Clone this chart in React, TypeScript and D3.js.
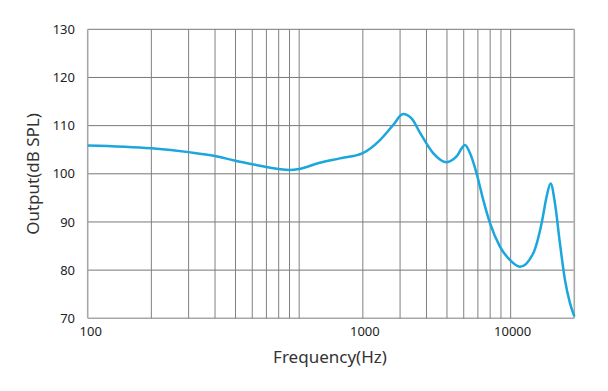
import React, { useEffect, useRef } from 'react'
import * as d3 from 'd3'

// frequency response
const freqs = [100, 200, 300, 400, 500, 600, 700, 800, 900, 1000, 1250, 1560, 2000, 2410, 2780, 3100, 3400, 3730, 4300, 4980, 5550, 6080, 6420, 6900, 7420, 7980, 8900, 9930, 11070, 12790, 14020, 14800, 15450, 16200, 17100, 18060, 19070, 20000]
const output = [105.9, 105.3, 104.5, 103.7, 102.7, 102.0, 101.4, 101.0, 100.8, 101.0, 102.3, 103.2, 104.3, 107.0, 110.1, 112.4, 111.5, 108.5, 104.3, 102.4, 103.6, 106.0, 104.3, 100.1, 94.6, 89.8, 84.9, 82.1, 80.7, 83.5, 89.8, 95.3, 98.0, 93.9, 85.6, 78.0, 73.2, 70.4]

const gridFreqs = [200, 300, 400, 500, 600, 700, 800, 900, 1000, 2000, 3000, 4000, 5000, 6000, 7000, 8000, 9000, 10000]
// the original puts its x labels at these grid lines
const xTickAt = [100, 2000, 10000]
const xTickLabels = ['100', '1000', '10000']
const yTicks = [70, 80, 90, 100, 110, 120, 130]

const W = 608
const H = 391
const font = '"Noto Sans", "Open Sans", sans-serif'

const App = () => {
	const ref = useRef<SVGSVGElement>(null)

	useEffect(() => {
		document.body.style.margin = '0'
		const svg = d3.select(ref.current)
		svg.selectAll('*').remove()

		const x = d3.scaleLog().domain([100, 20000]).range([87.7, 574.3])
		const y = d3.scaleLinear().domain([70, 130]).range([318.3, 29.3])

		const g = svg.append('g')

		// horizontal grid
		g.selectAll('line.h')
			.data(yTicks)
			.enter()
			.append('line')
			.attr('x1', x(100))
			.attr('x2', x(20000))
			.attr('y1', d => y(d))
			.attr('y2', d => y(d))
			.attr('stroke', d => (d === 70 ? '#a8a8a8' : '#777'))
			.attr('stroke-width', d => (d === 70 ? 1.6 : 1))

		// vertical grid
		g.selectAll('line.v')
			.data(gridFreqs)
			.enter()
			.append('line')
			.attr('x1', d => x(d))
			.attr('x2', d => x(d))
			.attr('y1', y(130))
			.attr('y2', y(70))
			.attr('stroke', '#808080')
			.attr('stroke-width', 1)

		// left axis and right border
		g.append('line')
			.attr('x1', x(100)).attr('x2', x(100))
			.attr('y1', y(130)).attr('y2', y(70))
			.attr('stroke', '#a8a8a8').attr('stroke-width', 1.6)
		g.append('line')
			.attr('x1', x(20000)).attr('x2', x(20000))
			.attr('y1', y(130)).attr('y2', y(70))
			.attr('stroke', '#a8a8a8').attr('stroke-width', 1.6)

		// y tick labels
		g.selectAll('text.yt')
			.data(yTicks)
			.enter()
			.append('text')
			.attr('x', 75)
			.attr('y', d => y(d))
			.attr('dy', '0.35em')
			.attr('text-anchor', 'end')
			.attr('font-family', font)
			.attr('font-size', 13)
			.attr('fill', '#222')
			.text(d => d)

		// x tick labels
		g.selectAll('text.xt')
			.data(xTickAt)
			.enter()
			.append('text')
			.attr('x', (d, i) => x(d) + (i === 0 ? 3 : 2))
			.attr('y', 336)
			.attr('text-anchor', 'middle')
			.attr('font-family', font)
			.attr('font-size', 13)
			.attr('fill', '#222')
			.text((d, i) => xTickLabels[i])

		// axis titles
		g.append('text')
			.attr('x', 330)
			.attr('y', 363)
			.attr('text-anchor', 'middle')
			.attr('font-family', font)
			.attr('font-size', 17)
			.attr('fill', '#333')
			.text('Frequency(Hz)')

		g.append('text')
			.attr('transform', 'translate(39,174) rotate(-90)')
			.attr('text-anchor', 'middle')
			.attr('font-family', font)
			.attr('font-size', 17)
			.attr('fill', '#333')
			.text('Output(dB SPL)')

		// response curve
		const line = d3.line<number>()
			.x((d, i) => x(freqs[i]))
			.y(d => y(d))
			.curve(d3.curveMonotoneX)

		g.append('path')
			.datum(output)
			.attr('d', line)
			.attr('fill', 'none')
			.attr('stroke', '#1ba6dd')
			.attr('stroke-width', 2.5)
	}, [])

	return <svg ref={ref} width={W} height={H} style={{ display: 'block' }}></svg>
}

export default App
